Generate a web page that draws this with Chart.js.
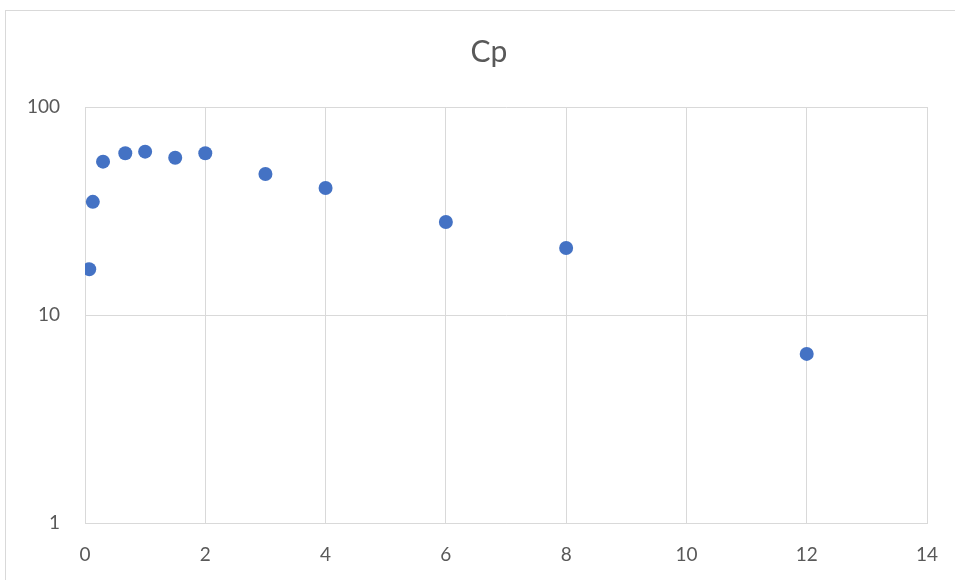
<!DOCTYPE html>
<html>
<head>
<meta charset="utf-8">
<script src="https://cdn.jsdelivr.net/npm/chart.js@4"></script>
<style>
  html, body { margin: 0; padding: 0; background: #fff; }
  #wrap { width: 955px; height: 580px; position: relative; }
</style>
</head>
<body>
<div id="wrap"><canvas id="cpChart" width="955" height="580"></canvas></div>
<script>
// time (h) and Cp values
const timeValues = [0.07, 0.13, 0.3, 0.67, 1, 1.5, 2, 3, 4, 6, 8, 12];
const cpValues = [16.6, 35.0, 54.6, 59.9, 61.0, 57.0, 59.9, 47.6, 40.8, 28.0, 21.0, 6.5];
const yTicks = [1, 10, 100];
const xMin = 0, xMax = 14, xStep = 2;
const chartTitle = 'Cp';

const FONT = "Lato, 'Open Sans', 'Liberation Sans', sans-serif";
const TEXT = '#595959';
const GRID = '#d9d9d9';

// frame + title, centred over the whole chart box like in the spreadsheet
const framePlugin = {
    id: 'frame',
    beforeDraw(chart) {
        const ctx = chart.ctx;
        ctx.save();
        ctx.fillStyle = '#fff';
        ctx.fillRect(0, 0, chart.width, chart.height);
        ctx.strokeStyle = GRID;
        ctx.lineWidth = 1;
        ctx.strokeRect(5.5, 10.5, chart.width + 10, chart.height + 10);
        ctx.fillStyle = TEXT;
        ctx.font = '30px ' + FONT;
        ctx.textAlign = 'center';
        ctx.textBaseline = 'alphabetic';
        ctx.fillText(chartTitle, 489, 62);
        ctx.restore();
    }
};

const points = timeValues.map((t, i) => ({ x: t, y: cpValues[i] }));

new Chart(document.getElementById('cpChart'), {
    type: 'scatter',
    data: {
        datasets: [{
            label: 'Cp',
            data: points,
            backgroundColor: '#4472C4',
            borderColor: '#4472C4',
            borderWidth: 0,
            pointRadius: 7,
            pointHoverRadius: 7
        }]
    },
    options: {
        responsive: false,
        animation: false,
        layout: { padding: { left: 0, right: 28, top: 107, bottom: 0 } },
        plugins: {
            legend: { display: false },
            tooltip: { enabled: false },
            title: { display: false }
        },
        scales: {
            x: {
                type: 'linear',
                min: xMin,
                max: xMax,
                ticks: {
                    stepSize: xStep,
                    color: TEXT,
                    font: { family: FONT, size: 19 },
                    padding: 20
                },
                grid: { color: GRID, drawTicks: false },
                border: { color: GRID },
                afterFit(scale) {
                    scale.height = 57;
                    scale.paddingLeft = 0;
                    scale.paddingRight = 0;
                }
            },
            y: {
                type: 'logarithmic',
                min: 1,
                max: 100,
                afterBuildTicks(scale) {
                    scale.ticks = yTicks.map(v => ({ value: v }));
                },
                ticks: {
                    color: TEXT,
                    font: { family: FONT, size: 19 },
                    padding: 25,
                    callback: v => String(v)
                },
                grid: { color: GRID, drawTicks: false },
                border: { color: GRID },
                afterFit(scale) { scale.width = 85; }
            }
        }
    },
    plugins: [framePlugin]
});
</script>
</body>
</html>
